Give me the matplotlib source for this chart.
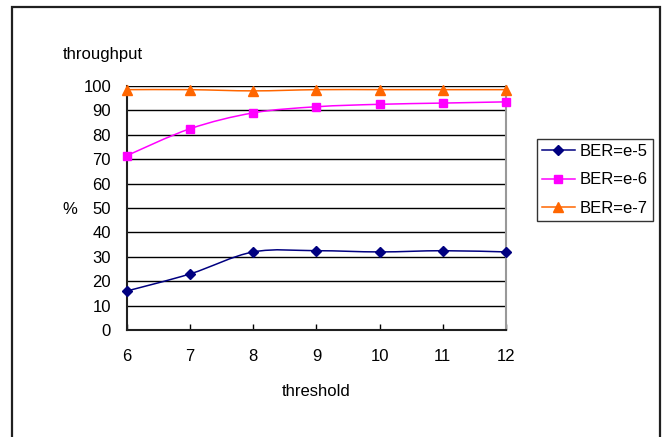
import matplotlib
matplotlib.use("Agg")
import matplotlib.pyplot as plt
from matplotlib.path import Path
from matplotlib.patches import PathPatch, Rectangle
from matplotlib.lines import Line2D
import numpy as np

plt.rcParams['font.family'] = ['Liberation Sans', 'DejaVu Sans']

thresholds = [6, 7, 8, 9, 10, 11, 12]
ber_e5 = [16, 23, 32, 32.5, 32, 32.5, 32]
ber_e6 = [71.5, 82.5, 89, 91.5, 92.5, 93, 93.5]
ber_e7 = [98.5, 98.5, 98, 98.5, 98.5, 98.5, 98.5]
series_labels = ["BER=e-5", "BER=e-6", "BER=e-7"]
y_ticks = [0, 10, 20, 30, 40, 50, 60, 70, 80, 90, 100]

FS = 12

W, H = 669, 437
fig = plt.figure(figsize=(W / 100, H / 100), dpi=100)

def fx(px):
    return px / W

def fy(py):
    return 1 - py / H

left, right, top, bottom = 127, 506, 86, 330
ax = fig.add_axes([fx(left), fy(bottom), fx(right) - fx(left), fy(top) - fy(bottom)])
ax.set_xlim(6, 12)
ax.set_ylim(0, 100)

for v in y_ticks[1:]:
    ax.axhline(v, color='black', lw=1.0, zorder=1)

def smooth_path(xs, ys):
    xs = np.asarray(xs, float)
    ys = np.asarray(ys, float)
    pts = np.column_stack([xs, ys])
    verts = [pts[0]]
    codes = [Path.MOVETO]
    n = len(pts)
    for i in range(n - 1):
        p0 = pts[i - 1] if i > 0 else pts[i]
        p1 = pts[i]
        p2 = pts[i + 1]
        p3 = pts[i + 2] if i + 2 < n else pts[i + 1]
        c1 = p1 + (p2 - p0) / 6.0
        c2 = p2 - (p3 - p1) / 6.0
        verts += [c1, c2, p2]
        codes += [Path.CURVE4] * 3
    return Path(verts, codes)

styles = [
    (ber_e5, '#000080', 'D', 5),
    (ber_e6, '#FF00FF', 's', 5.5),
    (ber_e7, '#FF6600', '^', 6.5),
]
handles = []
for (vals, col, mk, ms), lab in zip(styles, series_labels):
    ax.add_patch(PathPatch(smooth_path(thresholds, vals), facecolor='none',
                           edgecolor=col, lw=1.1, zorder=3, clip_on=False))
    ax.plot(thresholds, vals, linestyle='none', marker=mk, color=col,
            markersize=ms, zorder=4, clip_on=False)
    handles.append(Line2D([0], [0], color=col, lw=1.1, marker=mk, markersize=ms))

ax.set_xticks(thresholds)
ax.set_xticklabels([str(t) for t in thresholds], fontsize=FS)
ax.set_yticks(y_ticks)
ax.set_yticklabels([str(v) for v in y_ticks], fontsize=FS)
ax.tick_params(axis='x', direction='in', length=4.5, width=1, pad=14, color='black')
ax.tick_params(axis='y', direction='out', length=0, width=1, pad=11.5, color='black')

ax.spines['top'].set_visible(False)
ax.spines['left'].set_color('#202020')
ax.spines['left'].set_linewidth(1.5)
ax.spines['bottom'].set_color('#202020')
ax.spines['bottom'].set_linewidth(1.5)
ax.spines['right'].set_color('#999999')
ax.spines['right'].set_linewidth(1.5)

fig.text(fx(63), fy(55), "throughput", fontsize=FS, ha='left', va='center')
fig.text(fx(70), fy(209), "%", fontsize=FS, ha='center', va='center')
fig.text(fx(316), fy(391), "threshold", fontsize=FS, ha='center', va='center')

leg = fig.legend(handles, series_labels, loc='upper left',
                 bbox_to_anchor=(fx(537), fy(139)), fontsize=FS,
                 frameon=True, fancybox=False, edgecolor='black',
                 handlelength=2.0, handletextpad=0.3, borderpad=0.28,
                 labelspacing=0.82, borderaxespad=0)
leg.get_frame().set_linewidth(1.0)

# outer chart border
fig.patches.append(Rectangle((fx(12), fy(H + 5)), fx(660) - fx(12), fy(7) - fy(H + 5),
                             transform=fig.transFigure, fill=False,
                             edgecolor='#202020', lw=1.6))

fig.savefig("out.png", dpi=100)
